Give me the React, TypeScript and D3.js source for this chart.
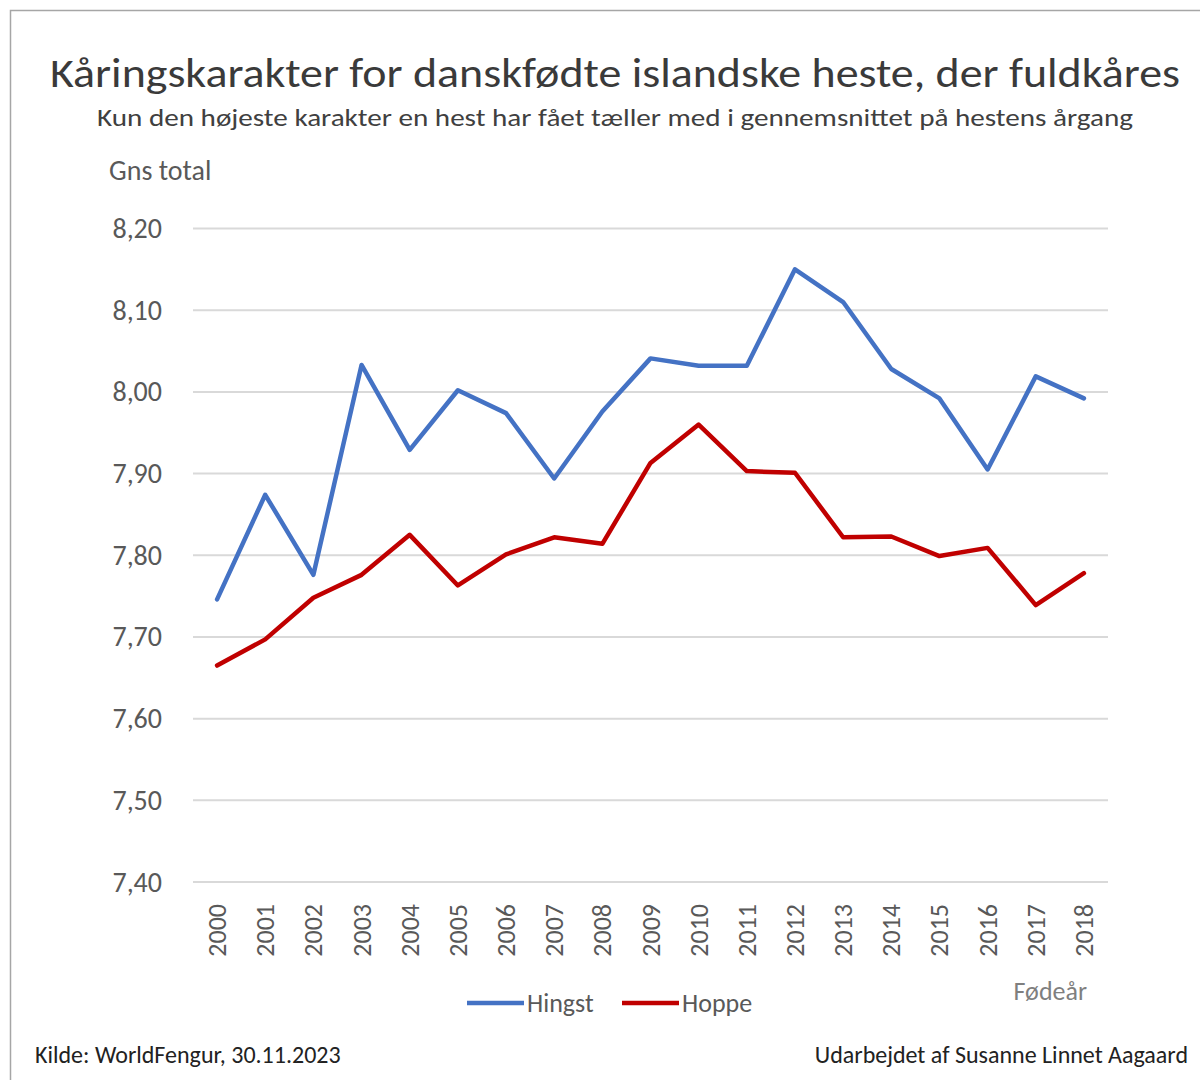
import React, { useEffect, useRef } from 'react';
import * as d3 from 'd3';

// fødeår
const years = ['2000', '2001', '2002', '2003', '2004', '2005', '2006', '2007', '2008', '2009',
  '2010', '2011', '2012', '2013', '2014', '2015', '2016', '2017', '2018'];

// gennemsnitlig total, hingste
const hingst = [7.746, 7.874, 7.776, 8.033, 7.929, 8.002, 7.974, 7.894, 7.976, 8.041,
  8.032, 8.032, 8.150, 8.110, 8.028, 7.992, 7.905, 8.019, 7.992];

// gennemsnitlig total, hopper
const hoppe = [7.665, 7.697, 7.748, 7.776, 7.825, 7.763, 7.801, 7.822, 7.814, 7.913,
  7.960, 7.903, 7.901, 7.822, 7.823, 7.799, 7.809, 7.739, 7.778];

const yTicks = [7.4, 7.5, 7.6, 7.7, 7.8, 7.9, 8.0, 8.1, 8.2];

const seriesList = [
  { name: 'Hingst', values: hingst, color: '#4472c4' },
  { name: 'Hoppe', values: hoppe, color: '#c00000' },
];

const FONT = 'Carlito, Calibri, Lato, "Open Sans", sans-serif';

const App = () => {
  const svgRef = useRef<SVGSVGElement>(null);

  useEffect(() => {
    const svg = d3.select(svgRef.current);
    svg.selectAll('*').remove();

    const width = 1200;
    const height = 1080;
    const plot = { left: 193, right: 1108, top: 228.5, bottom: 882 };

    svg.attr('width', width).attr('height', height).style('font-family', FONT);

    svg.append('rect')
      .attr('x', 0).attr('y', 0).attr('width', width).attr('height', height)
      .attr('fill', '#fff');

    // ramme
    svg.append('rect')
      .attr('x', 10.5).attr('y', 10.5)
      .attr('width', width + 20).attr('height', height + 20)
      .attr('fill', 'none')
      .attr('stroke', '#a6a6a6')
      .attr('stroke-width', 1.5);

    svg.append('text')
      .attr('x', 615).attr('y', 87)
      .attr('text-anchor', 'middle')
      .attr('textLength', 1130).attr('lengthAdjust', 'spacingAndGlyphs')
      .style('font-size', '42px')
      .style('fill', '#3a3a3a')
      .text('Kåringskarakter for danskfødte islandske heste, der fuldkåres');

    svg.append('text')
      .attr('x', 615).attr('y', 126)
      .attr('text-anchor', 'middle')
      .attr('textLength', 1036).attr('lengthAdjust', 'spacingAndGlyphs')
      .style('font-size', '25px')
      .style('fill', '#404040')
      .text('Kun den højeste karakter en hest har fået tæller med i gennemsnittet på hestens årgang');

    const x = d3.scaleBand()
      .domain(years)
      .range([plot.left, plot.right])
      .padding(0);

    const y = d3.scaleLinear()
      .domain([7.4, 8.2])
      .range([plot.bottom, plot.top]);

    const fmt = (d: number) => d3.format('.2f')(d).replace('.', ',');

    // gitterlinjer
    svg.append('g')
      .selectAll('line')
      .data(yTicks)
      .enter()
      .append('line')
      .attr('x1', plot.left).attr('x2', plot.right)
      .attr('y1', d => y(d)).attr('y2', d => y(d))
      .attr('stroke', '#d9d9d9')
      .attr('stroke-width', 2);

    svg.append('g')
      .selectAll('text')
      .data(yTicks)
      .enter()
      .append('text')
      .attr('x', 162)
      .attr('y', d => y(d) + 9.5)
      .attr('text-anchor', 'end')
      .style('font-size', '28px')
      .style('fill', '#595959')
      .text(d => fmt(d));

    svg.append('text')
      .attr('x', 109).attr('y', 180)
      .style('font-size', '28px')
      .style('fill', '#595959')
      .text('Gns total');

    // x-akse
    svg.append('g')
      .selectAll('text')
      .data(years)
      .enter()
      .append('text')
      .attr('transform', d => `translate(${x(d)! + x.bandwidth() / 2 + 9},904) rotate(-90)`)
      .attr('text-anchor', 'end')
      .style('font-size', '26px')
      .style('fill', '#595959')
      .text(d => d);

    svg.append('text')
      .attr('x', 1087).attr('y', 1000)
      .attr('text-anchor', 'end')
      .style('font-size', '26px')
      .style('fill', '#7f7f7f')
      .text('Fødeår');

    const line = d3.line<number>()
      .x((_, i) => x(years[i])! + x.bandwidth() / 2)
      .y(d => y(d));

    seriesList.forEach(s => {
      svg.append('path')
        .datum(s.values)
        .attr('d', line)
        .attr('fill', 'none')
        .attr('stroke', s.color)
        .attr('stroke-width', 4.5)
        .attr('stroke-linejoin', 'round')
        .attr('stroke-linecap', 'round');
    });

    // forklaring
    const legendX = [467, 622];
    const legend = svg.append('g');
    seriesList.forEach((s, i) => {
      legend.append('line')
        .attr('x1', legendX[i]).attr('x2', legendX[i] + 57)
        .attr('y1', 1003).attr('y2', 1003)
        .attr('stroke', s.color)
        .attr('stroke-width', 4.5);
      legend.append('text')
        .attr('x', legendX[i] + 60).attr('y', 1012)
        .style('font-size', '26px')
        .style('fill', '#595959')
        .text(s.name);
    });

    svg.append('text')
      .attr('x', 35).attr('y', 1063)
      .style('font-size', '24px')
      .style('fill', '#222')
      .text('Kilde: WorldFengur, 30.11.2023');

    svg.append('text')
      .attr('x', 1188).attr('y', 1063)
      .attr('text-anchor', 'end')
      .style('font-size', '24px')
      .style('fill', '#222')
      .text('Udarbejdet af Susanne Linnet Aagaard');
  }, []);

  return (
    <div style={{ position: 'absolute', left: 0, top: 0 }}>
      <svg ref={svgRef} style={{ display: 'block' }}></svg>
    </div>
  );
};

export default App;
